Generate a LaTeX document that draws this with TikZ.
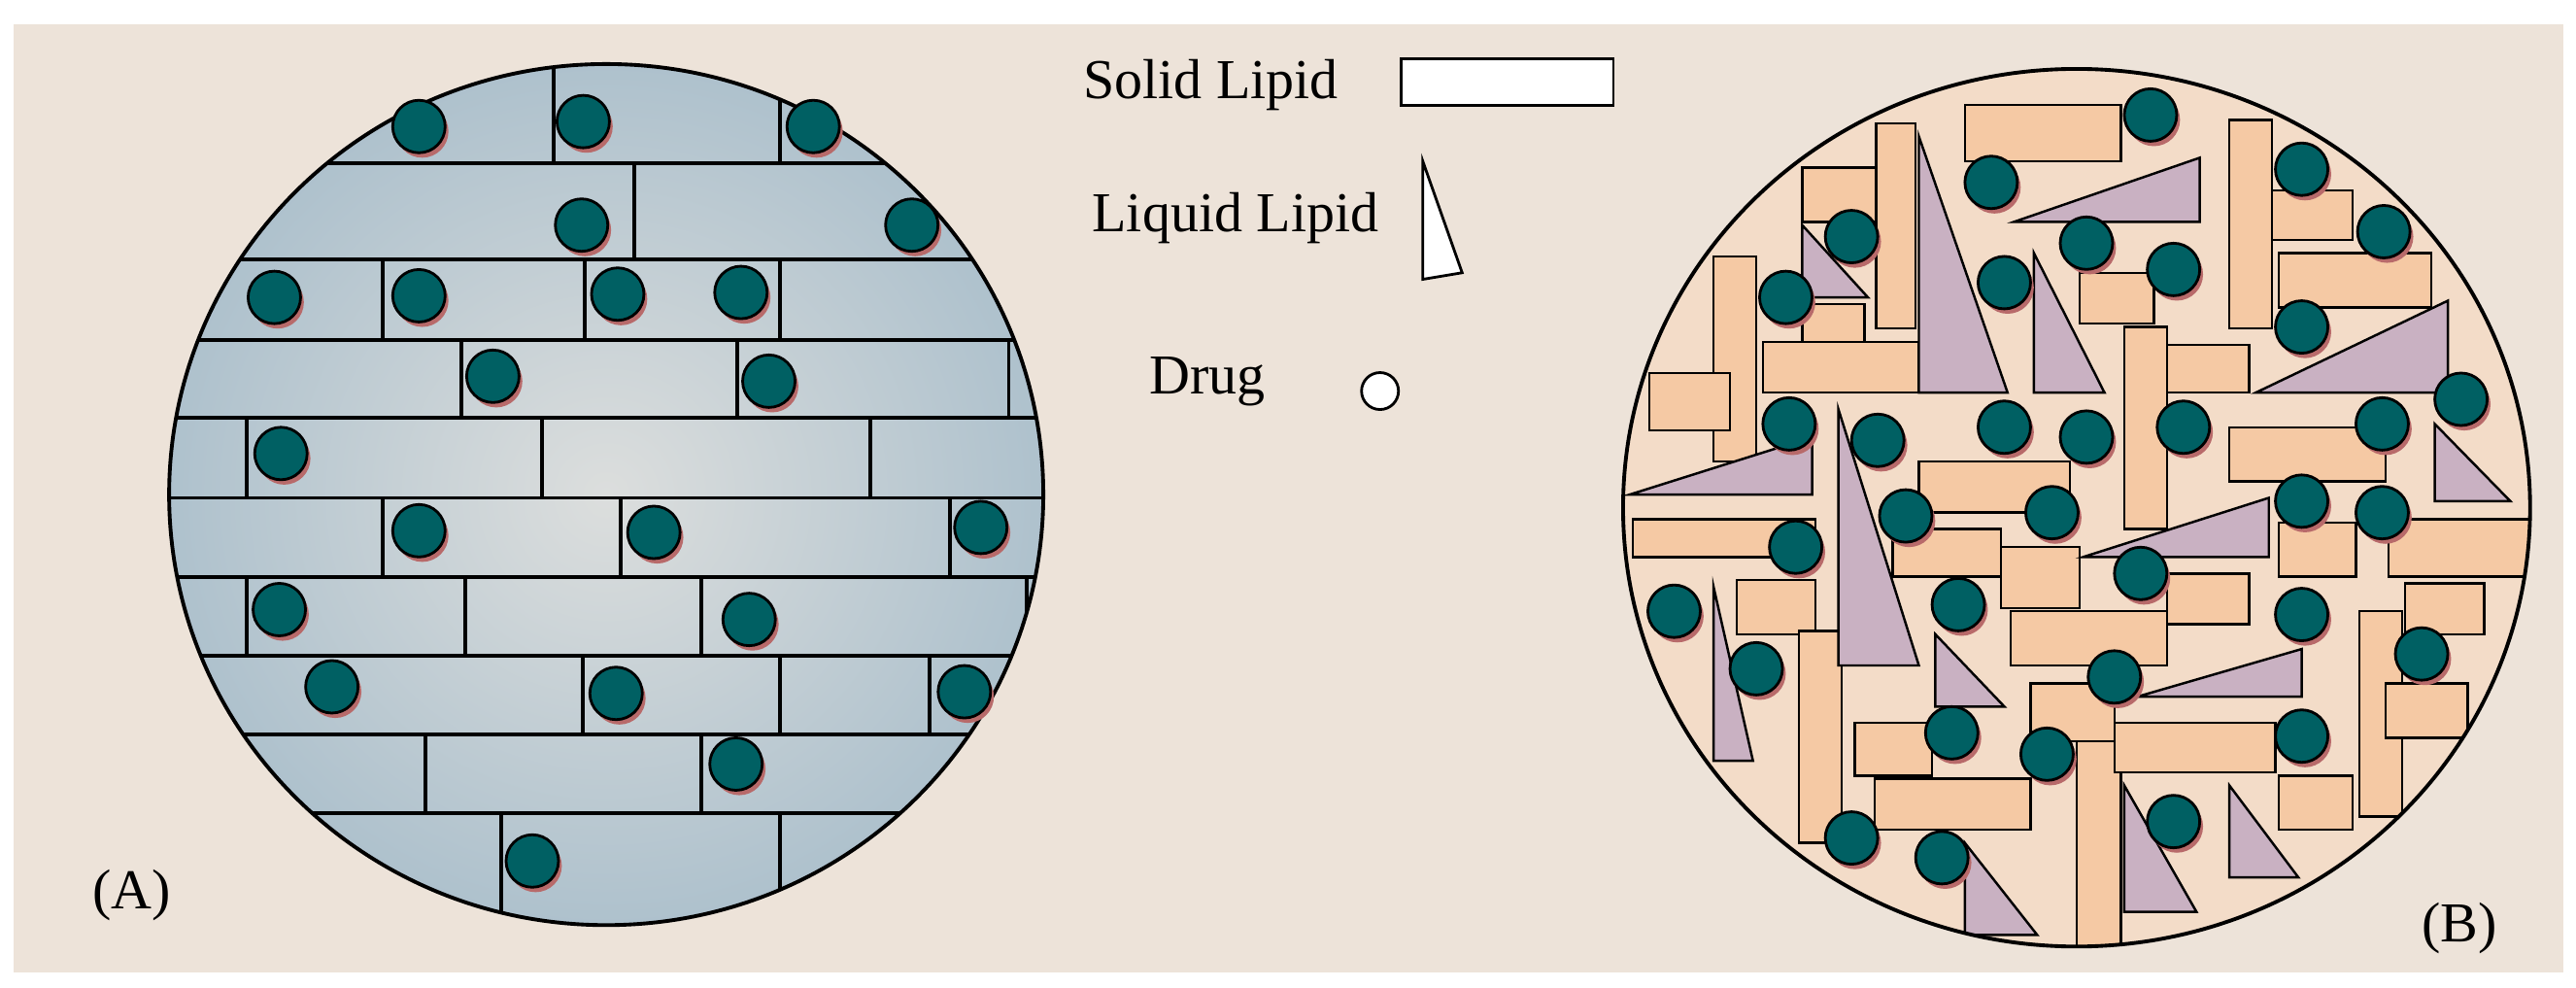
\documentclass[tikz,border=0pt]{standalone}
\usepackage{fontspec}
\setmainfont{Liberation Serif}
\usetikzlibrary{positioning}
\definecolor{paper}{HTML}{EDE3D9}
\definecolor{matrixB}{HTML}{F3DCC8}
\definecolor{solidfill}{HTML}{F5C9A4}
\definecolor{liquidfill}{HTML}{C9B1C2}
\definecolor{drugfill}{HTML}{006063}
\definecolor{drugshadow}{HTML}{B86A6A}
\definecolor{blueedge}{HTML}{A9BECB}
\definecolor{bluemid}{HTML}{DCDEDD}

\begin{document}
\begin{tikzpicture}[x=0.01691cm,y=-0.01691cm]
\tikzstyle{line}=[black, line width=1.1pt]
\tikzstyle{solid}=[draw=black, fill=solidfill, line width=0.7pt]
\tikzstyle{liquid}=[draw=black, fill=liquidfill, line width=0.7pt]
\tikzstyle{label}=[font=\fontsize{16.5pt}{19pt}\selectfont, inner sep=0pt]
\useasboundingbox (0,0) rectangle (1568,601);
\fill[white] (0,0) rectangle (1568,601);
\fill[paper] (8,15) rectangle (1560,592);

% (A) solid lipid nanoparticle
\begin{scope}
\clip (369,301) ellipse [x radius=4.498cm, y radius=4.43cm];
\shade[inner color=bluemid, outer color=blueedge] (369,301) ellipse [x radius=5cm, y radius=4.9cm];
\foreach \y in {99.5,158,207,254,303,351,399,447,495}
  \draw[line] (90,\y) -- (660,\y);
\foreach \x in {337,475} \draw[line] (\x,30) -- (\x,99.5);
\draw[line] (386,99.5) -- (386,158);
\foreach \x in {233,356,475} \draw[line] (\x,158) -- (\x,207);
\foreach \x in {281,449,614} \draw[line] (\x,207) -- (\x,254);
\foreach \x in {150,330,530} \draw[line] (\x,254) -- (\x,303);
\foreach \x in {233,378,578} \draw[line] (\x,303) -- (\x,351);
\foreach \x in {150,283,427,625} \draw[line] (\x,351) -- (\x,399);
\foreach \x in {355,475,566} \draw[line] (\x,399) -- (\x,447);
\foreach \x in {259,427} \draw[line] (\x,447) -- (\x,495);
\foreach \x in {305,475} \draw[line] (\x,495) -- (\x,580);
\end{scope}
\draw[line] (369,301) ellipse [x radius=4.498cm, y radius=4.43cm];
\foreach \x/\y in {255/77,355/74,495/77,354/137,555/137,167/181,255/180,376/179,451/178,
  300/229,468/232,171/276,255/323,398/324,597/321,170/371,456/377,202/418,375/422,
  587/421,448/465,324/524}{
  \fill[drugshadow] (\x+2,\y+3) circle (0.27cm);
  \draw[fill=drugfill, line width=0.8pt] (\x,\y) circle (0.27cm);
}
\node[label] (labelA) at (80,545) {(A)};

% legend
\node[label] (solidtext) at (737,52) {Solid Lipid};
\draw[fill=white, line width=0.8pt] (853,36) rectangle (982,64);
\node[label] (liquidtext) at (752,133) {Liquid Lipid};
\draw[fill=white, line width=0.8pt] (866,98) -- (866,170) -- (890,166) -- cycle;
\node[label] (drugtext) at (735,232) {Drug};
\draw[fill=white, line width=0.8pt] (840,238) circle (0.19cm);

% (B) nanostructured lipid carrier
\begin{scope}
\clip (1264,309) ellipse [x radius=4.667cm, y radius=4.515cm];
\fill[matrixB] (1264,309) ellipse [x radius=4.7cm, y radius=4.55cm];
\foreach \a/\b/\c/\d in {1196/64/1291/98, 1142/75/1166/200, 1097/102/1142/135,
  1043/156/1069/281, 1004/227/1053/262, 1073/208/1168/239, 1097/185/1135/208,
  1357/73/1383/200, 1383/116/1432/146, 1387/154/1480/187, 1266/166/1311/197,
  1293/199/1319/322, 1319/210/1369/239, 1357/260/1452/293, 1168/281/1260/312,
  994/316/1105/339, 1057/353/1105/386, 1095/384/1121/513, 1152/322/1218/351,
  1218/333/1266/370, 1319/349/1369/380, 1224/372/1319/405, 1387/318/1434/351,
  1454/316/1542/351, 1464/355/1512/386, 1436/372/1462/497, 1452/416/1502/449,
  1236/416/1287/451, 1129/440/1176/472, 1141/474/1236/505, 1264/451/1291/578,
  1287/440/1385/470, 1387/472/1432/505}
  \draw[solid] (\a,\b) rectangle (\c,\d);
\foreach \a/\b/\c/\d/\e/\f in {1168/83/1168/239/1222/239, 1226/135/1339/96/1339/135,
  1238/154/1238/239/1281/239, 1373/239/1490/183/1490/239, 992/301/1103/266/1103/301,
  1119/249/1119/405/1168/405, 1097/137/1097/181/1137/181, 1482/258/1482/305/1528/305,
  1268/339/1381/303/1381/339, 1178/386/1178/430/1220/430, 1043/357/1043/463/1067/463,
  1301/424/1401/395/1401/424, 1196/513/1196/569/1240/569, 1293/478/1293/555/1337/555,
  1357/478/1357/534/1399/534}
  \draw[liquid] (\a,\b) -- (\c,\d) -- (\e,\f) -- cycle;
\end{scope}
\draw[line] (1264,309) ellipse [x radius=4.667cm, y radius=4.515cm];
\foreach \x/\y in {1309/70,1212/111,1127/144,1401/103,1451/141,1270/148,1323/164,
  1220/172,1087/181,1401/199,1498/243,1089/258,1143/268,1220/260,1270/266,1329/260,
  1450/258,1160/314,1249/312,1401/305,1450/312,1093/333,1303/349,1019/372,1192/368,
  1401/374,1474/398,1069/407,1287/412,1188/446,1401/448,1246/459,1323/500,1127/510,
  1182/522}{
  \fill[drugshadow] (\x+2,\y+3) circle (0.27cm);
  \draw[fill=drugfill, line width=0.8pt] (\x,\y) circle (0.27cm);
}
\node[label] (labelB) at (1497,565) {(B)};
\end{tikzpicture}
\end{document}
